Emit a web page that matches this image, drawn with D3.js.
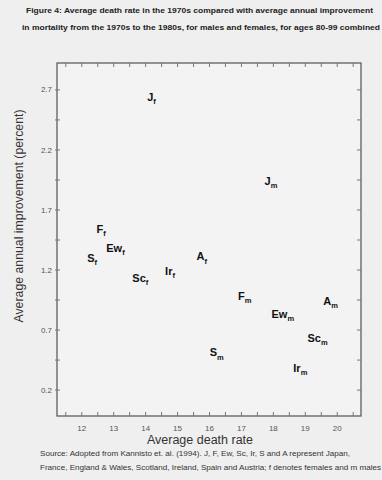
<!DOCTYPE html>
<html>
<head>
<meta charset="utf-8">
<script src="https://cdn.jsdelivr.net/npm/d3@7"></script>
<style>
  body { margin: 0; background: #efefef; }
  svg { display: block; font-family: "Liberation Sans", Arial, sans-serif; }
</style>
</head>
<body>
<div id="chart"></div>
<script>
// datos
const countries = ["J", "F", "Ew", "Sc", "Ir", "S", "A"];
const femaleRate = [14.2, 12.62, 13.07, 13.85, 14.78, 12.34, 15.77];
const femaleImprove = [2.64, 1.54, 1.38, 1.13, 1.19, 1.30, 1.31];
const maleRate = [17.94, 17.12, 18.31, 19.40, 18.86, 16.24, 19.81];
const maleImprove = [1.94, 0.98, 0.83, 0.63, 0.38, 0.51, 0.94];

const xTicks = [12, 13, 14, 15, 16, 17, 18, 19, 20];
const yTicks = [0.2, 0.7, 1.2, 1.7, 2.2, 2.7];

const titleLines = [
  "Figure 4: Average death rate in the 1970s compared with average annual improvement",
  "in mortality from the 1970s to the 1980s, for males and females, for ages 80-99 combined"
];
const sourceLines = [
  "Source: Adopted from Kannisto et. al. (1994). J, F, Ew, Sc, Ir, S and A represent Japan,",
  "France, England & Wales, Scotland, Ireland, Spain and Austria; f denotes females and m males"
];

const width = 382, height = 480;
const margin = { top: 63, right: 21, bottom: 64, left: 57 };

const svg = d3.select("#chart").append("svg")
  .attr("width", width)
  .attr("height", height);

svg.append("rect").attr("width", width).attr("height", height).attr("fill", "#efefef");

const x = d3.scaleLinear().domain([11.24, 20.76]).range([margin.left, width - margin.right]);
const y = d3.scaleLinear().domain([-0.02, 2.92]).range([height - margin.bottom, margin.top]);

// titulo
svg.selectAll(".title").data(titleLines).join("text")
  .attr("x", (d, i) => i === 0 ? 26 : 22)
  .attr("y", (d, i) => 13 + i * 17)
  .attr("textLength", (d, i) => i === 0 ? 347 : 358)
  .attr("lengthAdjust", "spacingAndGlyphs")
  .attr("font-size", 8)
  .attr("font-weight", "bold")
  .attr("fill", "#222")
  .text(d => d);

// marco
svg.append("rect")
  .attr("x", x.range()[0]).attr("y", y.range()[1])
  .attr("width", x.range()[1] - x.range()[0])
  .attr("height", y.range()[0] - y.range()[1])
  .attr("fill", "#f3f3f3")
  .attr("stroke", "#5e5e5e")
  .attr("stroke-width", 1.3);

// ticks menores y mayores
const xMinor = d3.range(11.5, 20.6, 0.5);
const yMinor = d3.range(0.2, 2.71, 0.25);

svg.append("g").attr("transform", `translate(0,${y.range()[0]})`)
  .call(d3.axisBottom(x).tickValues(xMinor).tickSize(-4).tickFormat(""))
  .call(g => g.select(".domain").remove())
  .call(g => g.selectAll("line").attr("stroke", "#777"));
svg.append("g").attr("transform", `translate(0,${y.range()[1]})`)
  .call(d3.axisTop(x).tickValues(xMinor).tickSize(-4).tickFormat(""))
  .call(g => g.select(".domain").remove())
  .call(g => g.selectAll("line").attr("stroke", "#777"));
svg.append("g").attr("transform", `translate(${x.range()[1]},0)`)
  .call(d3.axisRight(y).tickValues(yMinor).tickSize(-4).tickFormat(""))
  .call(g => g.select(".domain").remove())
  .call(g => g.selectAll("line").attr("stroke", "#777"));
svg.append("g").attr("transform", `translate(${x.range()[0] + 3},0)`)
  .call(d3.axisLeft(y).tickValues(yMinor).tickSize(5).tickFormat(""))
  .call(g => g.select(".domain").remove())
  .call(g => g.selectAll("line").attr("stroke", "#777"));

// etiquetas de ejes
svg.append("g").attr("transform", `translate(0,${y.range()[0]})`)
  .call(d3.axisBottom(x).tickValues(xTicks).tickSize(0).tickPadding(9).tickFormat(d3.format("d")))
  .call(g => g.select(".domain").remove())
  .call(g => g.selectAll("text").attr("font-size", 8).attr("fill", "#555").attr("font-family", null));

svg.append("g").attr("transform", `translate(${x.range()[0]},0)`)
  .call(d3.axisLeft(y).tickValues(yTicks).tickSize(0).tickPadding(5).tickFormat(d3.format(".1f")))
  .call(g => g.select(".domain").remove())
  .call(g => g.selectAll("text").attr("font-size", 8).attr("fill", "#555").attr("font-family", null));

svg.append("text")
  .attr("x", 200).attr("y", 444)
  .attr("text-anchor", "middle")
  .attr("font-size", 12.5)
  .attr("fill", "#333")
  .text("Average death rate");

svg.append("text")
  .attr("transform", "translate(23,216) rotate(-90)")
  .attr("text-anchor", "middle")
  .attr("font-size", 12.3)
  .attr("fill", "#333")
  .text("Average annual improvement (percent)");

// puntos como etiquetas
const points = countries.flatMap((c, i) => [
  { code: c, sub: "f", rate: femaleRate[i], imp: femaleImprove[i] },
  { code: c, sub: "m", rate: maleRate[i], imp: maleImprove[i] }
]);

const lab = svg.selectAll(".pt").data(points).join("text")
  .attr("x", d => x(d.rate))
  .attr("y", d => y(d.imp) + 4)
  .attr("text-anchor", "middle")
  .attr("font-size", 11)
  .attr("font-weight", "bold")
  .attr("fill", "#111");
lab.append("tspan").text(d => d.code);
lab.append("tspan").attr("dy", 3.5).attr("font-size", 7.5).text(d => d.sub);

// fuente
svg.selectAll(".src").data(sourceLines).join("text")
  .attr("x", 40)
  .attr("y", (d, i) => 456 + i * 14)
  .attr("textLength", (d, i) => i === 0 ? 310 : 341)
  .attr("lengthAdjust", "spacingAndGlyphs")
  .attr("font-size", 7.5)
  .attr("fill", "#333")
  .text(d => d);
</script>
</body>
</html>
